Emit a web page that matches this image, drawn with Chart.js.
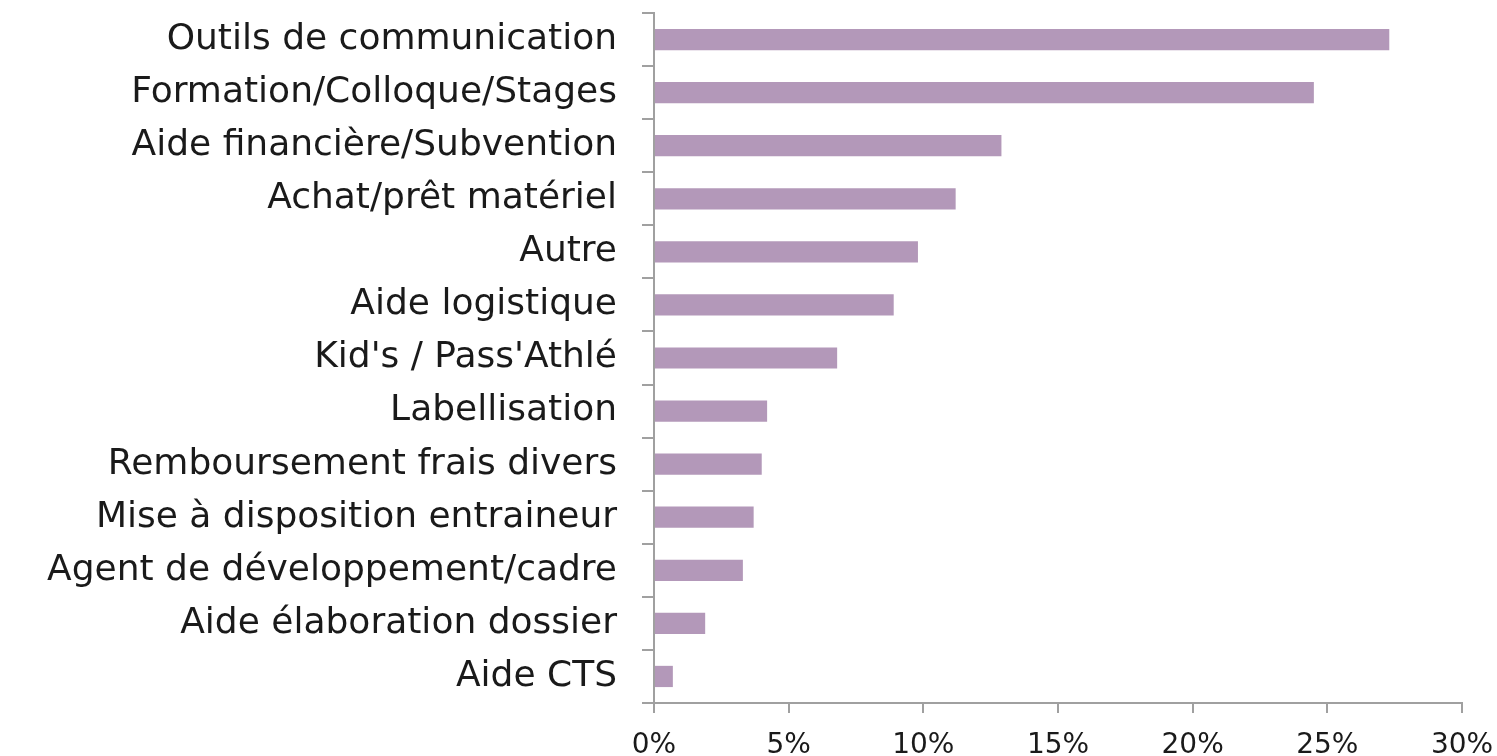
<!DOCTYPE html>
<html>
<head>
<meta charset="utf-8">
<script src="https://cdn.jsdelivr.net/npm/chart.js@4/dist/chart.umd.min.js"></script>
<style>
  html, body { margin: 0; padding: 0; background: #fff; }
  #wrap { width: 1497px; height: 756px; }
</style>
</head>
<body>
<div id="wrap"><canvas id="chart" width="1497" height="756"></canvas></div>
<script>
// Catégories (de haut en bas)
const categories = [
  'Outils de communication',
  'Formation/Colloque/Stages',
  'Aide financière/Subvention',
  'Achat/prêt matériel',
  'Autre',
  'Aide logistique',
  "Kid's / Pass'Athlé",
  'Labellisation',
  'Remboursement frais divers',
  'Mise à disposition entraineur',
  'Agent de développement/cadre',
  'Aide élaboration dossier',
  'Aide CTS'
];

// Valeurs en %
const percentages = [27.3, 24.5, 12.9, 11.2, 9.8, 8.9, 6.8, 4.2, 4.0, 3.7, 3.3, 1.9, 0.7];

const axisColor = '#a0a0a0';
const barColor = '#b398b9';
const fontFamily = '"DejaVu Sans", sans-serif';

const ctx = document.getElementById('chart').getContext('2d');
new Chart(ctx, {
  type: 'bar',
  data: {
    labels: categories,
    datasets: [{
      data: percentages,
      backgroundColor: barColor,
      borderWidth: 0,
      barPercentage: 0.4,
      categoryPercentage: 1.0,
    }],
  },
  options: {
    indexAxis: 'y',
    responsive: false,
    animation: false,
    layout: { padding: { top: 13, right: 35, bottom: 0, left: 0 } },
    plugins: {
      legend: { display: false },
      tooltip: { enabled: false },
    },
    scales: {
      x: {
        min: 0,
        max: 30,
        ticks: {
          stepSize: 5,
          color: '#1a1a1a',
          padding: 16,
          font: { family: fontFamily, size: 28 },
          callback: (v) => v + '%',
          maxRotation: 0,
        },
        grid: { drawOnChartArea: false, tickLength: 10, color: axisColor, lineWidth: 2 },
        border: { color: axisColor, width: 2 },
        afterFit: (scale) => {
          scale.height = 53;
          scale.paddingLeft = 0;
          scale.paddingRight = 0;
        },
      },
      y: {
        ticks: {
          color: '#1a1a1a',
          padding: 25,
          font: { family: fontFamily, size: 36 },
        },
        grid: { drawOnChartArea: false, tickLength: 12, color: axisColor, lineWidth: 2, offset: true },
        border: { color: axisColor, width: 2 },
        afterFit: (scale) => {
          scale.width = 654;
          scale.paddingTop = 0;
          scale.paddingBottom = 0;
        },
      },
    },
  },
});
</script>
</body>
</html>
